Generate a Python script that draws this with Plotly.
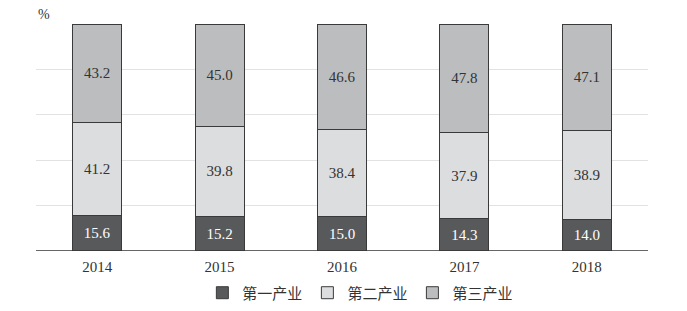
import plotly.graph_objects as go

years = ["2014", "2015", "2016", "2017", "2018"]
primary = [15.6, 15.2, 15.0, 14.3, 14.0]
secondary = [41.2, 39.8, 38.4, 37.9, 38.9]
tertiary = [43.2, 45.0, 46.6, 47.8, 47.1]
names = ["第一产业", "第二产业", "第三产业"]

serif = "Liberation Serif, Noto Sans CJK SC, serif"
colors = ["#58595b", "#dcdddf", "#bcbdbf"]
text_colors = ["#ffffff", "#333333", "#333333"]

fig = go.Figure()
for name, vals, c, tc in zip(names, [primary, secondary, tertiary], colors, text_colors):
    fig.add_trace(go.Bar(
        x=years, y=vals, name=name,
        marker=dict(color=c, line=dict(color="#3a3a3a", width=1)),
        text=[f"{v:.1f}" for v in vals],
        textposition="inside", insidetextanchor="middle",
        textfont=dict(family=serif, size=15, color=tc),
        hoverinfo="skip",
    ))

fig.update_layout(
    barmode="stack",
    bargap=0.6,
    width=687, height=311,
    margin=dict(l=36, r=39, t=24, b=60, autoexpand=False),
    plot_bgcolor="white", paper_bgcolor="white",
    font=dict(family=serif, size=13, color="#333333"),
    showlegend=True,
    legend=dict(orientation="h", x=0.53, xanchor="center", yref="container", y=0.058, yanchor="middle",
                font=dict(family=serif, size=15, color="#333333"),
                itemwidth=30, tracegroupgap=0, traceorder="normal"),
    xaxis=dict(showline=False, ticks="", ticklabelstandoff=5,
               tickfont=dict(family=serif, size=15, color="#333333")),
    yaxis=dict(range=[0, 100], dtick=20, showticklabels=False, gridcolor="#e2e2e2",
               gridwidth=1, zeroline=False, showline=False),
    uniformtext=dict(mode="show", minsize=8),
)
fig.add_shape(type="line", xref="paper", yref="y", x0=0, x1=1, y0=0, y1=0,
              line=dict(color="#333333", width=1.5))
fig.add_annotation(text="%", xref="paper", yref="paper", x=0, y=1, xanchor="left", yanchor="bottom",
                   showarrow=False, font=dict(family=serif, size=14, color="#333333"), yshift=0)
fig.write_html("out.html")
